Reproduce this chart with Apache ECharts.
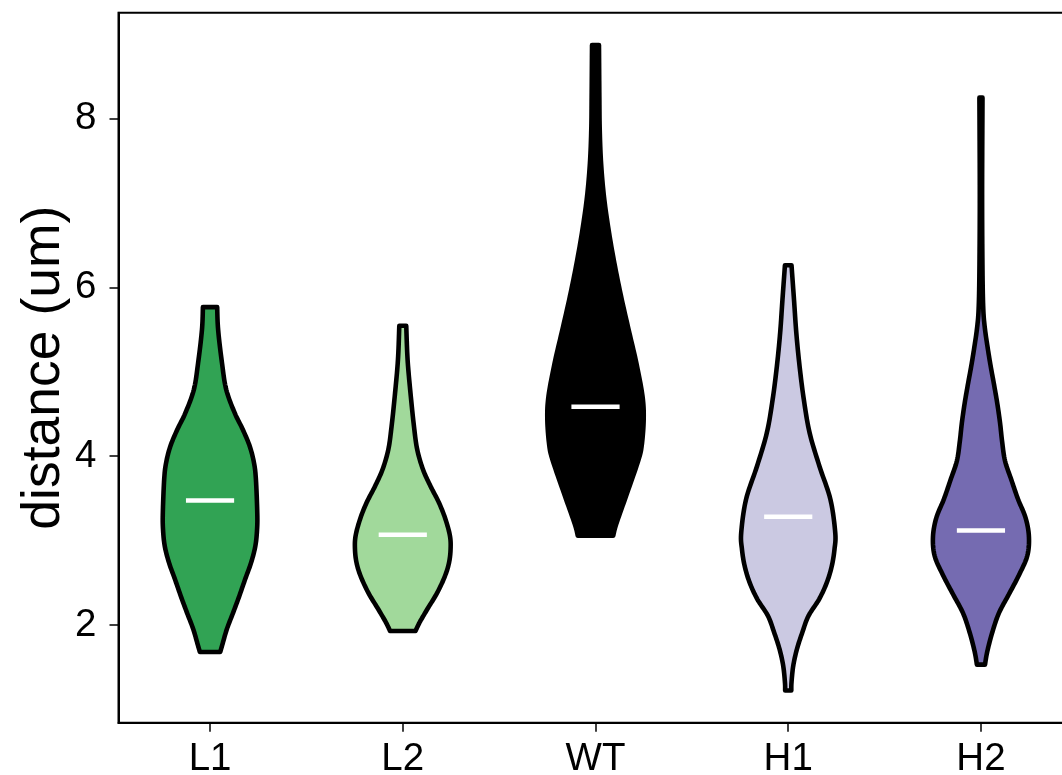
<!DOCTYPE html>
<html>
<head>
<meta charset="utf-8">
<script src="https://cdn.jsdelivr.net/npm/echarts@6/dist/echarts.min.js"></script>
<style>
  html, body { margin: 0; padding: 0; background: #fff; }
  #chart { width: 1062px; height: 775px; }
</style>
</head>
<body>
<div id="chart"></div>
<script>
// Groups along the x axis
const categories = ['L1', 'L2', 'WT', 'H1', 'H2'];

// Violin outlines per group: [distance (um), half-width of the density in x units]
const profileL1 = [
  [1.683, 0.053], [1.754, 0.062], [1.951, 0.087], [2.149, 0.120], [2.346, 0.152],
  [2.543, 0.182], [2.740, 0.213], [2.936, 0.235], [3.134, 0.244], [3.331, 0.245],
  [3.725, 0.238], [3.922, 0.228], [4.118, 0.206], [4.316, 0.170], [4.513, 0.128],
  [4.789, 0.084], [5.104, 0.062], [5.497, 0.042], [5.766, 0.037]
];
const profileL2 = [
  [1.931, 0.066], [2.031, 0.087], [2.188, 0.127], [2.385, 0.179], [2.582, 0.219],
  [2.740, 0.240], [2.897, 0.248], [3.054, 0.245], [3.252, 0.222], [3.449, 0.188],
  [3.645, 0.144], [3.843, 0.105], [4.079, 0.075], [4.355, 0.058], [4.749, 0.040],
  [5.143, 0.025], [5.545, 0.018]
];
const profileWT = [
  [3.060, 0.092], [3.200, 0.108], [3.570, 0.165], [3.950, 0.222], [4.130, 0.240],
  [4.434, 0.250], [4.709, 0.244], [5.104, 0.212], [5.498, 0.172], [5.891, 0.133],
  [6.286, 0.098], [6.680, 0.068], [7.073, 0.044], [7.468, 0.029], [7.862, 0.022],
  [8.255, 0.020], [8.870, 0.018]
];
const profileH1 = [
  [1.227, 0.016], [1.321, 0.017], [1.518, 0.026], [1.715, 0.045], [1.913, 0.073],
  [2.109, 0.105], [2.306, 0.160], [2.503, 0.200], [2.700, 0.226], [2.897, 0.240],
  [3.094, 0.244], [3.488, 0.219], [3.882, 0.162], [4.277, 0.111], [4.670, 0.081],
  [5.064, 0.059], [5.459, 0.042], [5.852, 0.030], [6.262, 0.017]
];
const profileH2 = [
  [1.533, 0.021], [1.690, 0.033], [1.916, 0.059], [2.142, 0.093], [2.366, 0.145],
  [2.592, 0.197], [2.818, 0.240], [3.043, 0.249], [3.268, 0.232], [3.494, 0.192],
  [3.719, 0.158], [3.944, 0.125], [4.170, 0.110], [4.396, 0.099], [4.621, 0.085],
  [4.847, 0.068], [5.072, 0.050], [5.297, 0.034], [5.522, 0.020], [5.748, 0.012],
  [6.199, 0.008], [7.100, 0.006], [8.246, 0.008]
];

// Mean distance per group (white bar inside each violin)
const means = [3.476, 3.071, 4.585, 3.284, 3.122];

// Axis ticks
const yTicks = [2, 4, 6, 8];
const xTicks = [1, 2, 3, 4, 5];

const profiles = [profileL1, profileL2, profileWT, profileH1, profileH2];
const fills = ['#31a354', '#a1d99b', '#000000', '#cbc9e2', '#756bb1'];
const meanHalfWidth = 0.125;
const FONT = 'Liberation Sans, Arial, Helvetica, sans-serif';

// Smooth a pixel-space polyline with a Catmull-Rom spline for drawing
function smoothSide(pts, steps) {
  const out = [];
  for (let i = 0; i < pts.length - 1; i++) {
    const p0 = pts[Math.max(i - 1, 0)], p1 = pts[i], p2 = pts[i + 1], p3 = pts[Math.min(i + 2, pts.length - 1)];
    for (let s = 0; s < steps; s++) {
      const t = s / steps, t2 = t * t, t3 = t2 * t;
      const f = (a, b, c, d) => 0.5 * ((2 * b) + (-a + c) * t + (2 * a - 5 * b + 4 * c - d) * t2 + (-a + 3 * b - 3 * c + d) * t3);
      out.push([f(p0[0], p1[0], p2[0], p3[0]), f(p0[1], p1[1], p2[1], p3[1])]);
    }
  }
  out.push(pts[pts.length - 1]);
  return out;
}

function renderViolin(params, api) {
  const i = params.dataIndex;
  const pos = api.value(0);
  const prof = profiles[i];
  const right = smoothSide(prof.map(([v, w]) => api.coord([pos + w, v])), 10);
  const left = smoothSide(prof.map(([v, w]) => api.coord([pos - w, v])), 10);
  const points = right.concat(left.reverse());
  const m1 = api.coord([pos - meanHalfWidth, api.value(1)]);
  const m2 = api.coord([pos + meanHalfWidth, api.value(1)]);
  return {
    type: 'group',
    children: [
      {
        type: 'polygon',
        shape: { points: points },
        style: { fill: fills[i], stroke: '#000', lineWidth: 4.6, lineJoin: 'round' }
      },
      {
        type: 'line',
        shape: { x1: m1[0], y1: m1[1], x2: m2[0], y2: m2[1] },
        style: { stroke: '#fff', lineWidth: 4.5 }
      }
    ]
  };
}

const chart = echarts.init(document.getElementById('chart'), null, { renderer: 'canvas' });
chart.setOption({
  animation: false,
  backgroundColor: '#fff',
  grid: {
    left: 118.5, width: 954, top: 12.7, bottom: 52.3,
    containLabel: false, outerBoundsMode: 'none',
    show: true, borderColor: '#000', borderWidth: 2, backgroundColor: 'transparent'
  },
  xAxis: {
    type: 'value',
    min: 0.525, max: 5.475,
    axisLine: { show: true, onZero: false, lineStyle: { color: '#000', width: 2 } },
    axisTick: { show: true, length: 9, customValues: xTicks, lineStyle: { color: '#000', width: 1.5 } },
    axisLabel: {
      customValues: xTicks, margin: 17, color: '#000', fontSize: 38.5, fontFamily: FONT,
      formatter: v => categories[Math.round(v) - 1]
    },
    splitLine: { show: false }
  },
  yAxis: {
    type: 'value',
    min: 0.845, max: 9.252,
    name: 'distance (um)', nameLocation: 'middle', nameGap: 47, nameMoveOverlap: false,
    nameTextStyle: { fontSize: 53.5, color: '#000', fontFamily: FONT },
    axisLine: { show: true, onZero: false, lineStyle: { color: '#000', width: 2 } },
    axisTick: { show: true, length: 9, customValues: yTicks, lineStyle: { color: '#000', width: 1.5 } },
    axisLabel: { customValues: yTicks, margin: 22, color: '#000', fontSize: 38.5, fontFamily: FONT },
    splitLine: { show: false }
  },
  series: [{
    type: 'custom',
    coordinateSystem: 'cartesian2d',
    renderItem: renderViolin,
    data: categories.map((c, i) => [xTicks[i], means[i]]),
    encode: { x: 0, y: 1 },
    silent: true
  }]
});
</script>
</body>
</html>
